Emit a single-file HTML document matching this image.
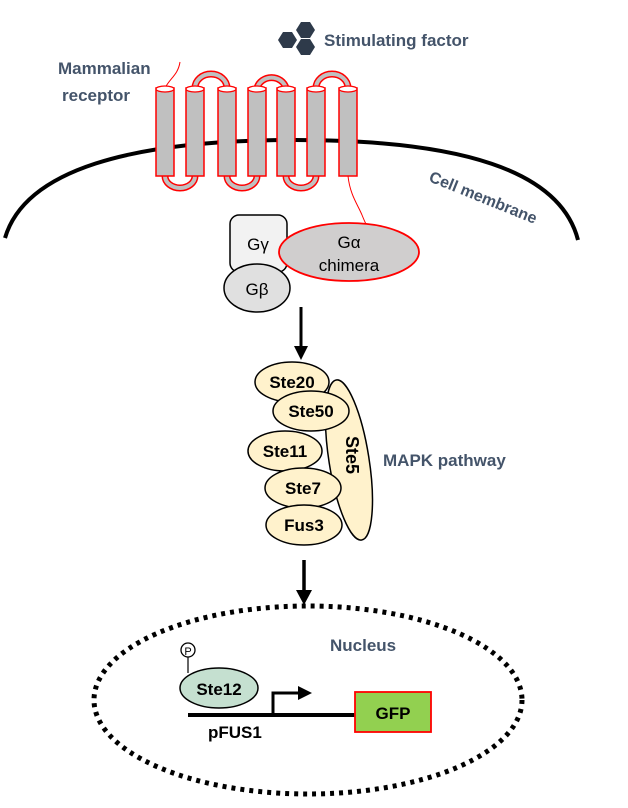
<!DOCTYPE html>
<html><head><meta charset="utf-8"><style>
html,body{margin:0;padding:0;background:#fff}
svg{display:block}
text{font-family:"Liberation Sans",Arial,sans-serif}
</style></head><body>
<svg width="628" height="808" viewBox="0 0 628 808" xmlns="http://www.w3.org/2000/svg">
<!-- stimulating factor hexagons -->
<g fill="#2e3a4a">
<polygon points="278,40 283,32 292,32 297,40 292,48 283,48"/>
<polygon points="296,30 301,22 310,22 315,30 310,38 301,38"/>
<polygon points="296,47 301,39 310,39 315,47 310,55 301,55"/>
</g>
<text x="324" y="46" font-size="17" font-weight="bold" fill="#44546a">Stimulating factor</text>
<text x="58" y="74" font-size="17" font-weight="bold" fill="#44546a">Mammalian</text>
<text x="62" y="101" font-size="17" font-weight="bold" fill="#44546a">receptor</text>
<path d="M165,88 C170,78 178,75 180,62" fill="none" stroke="red" stroke-width="1"/>
<!-- membrane -->
<path d="M5,238 C25,170 130,140 295,140 C460,140 560,170 578,240" fill="none" stroke="#000" stroke-width="4"/>
<text x="428" y="181" font-size="16" font-weight="bold" fill="#44546a" transform="rotate(22 428 181)">Cell membrane</text>
<!-- loops -->
<g fill="none" stroke="red" stroke-width="7">
<path d="M195,88 A16,14 0 0 1 227,88"/><path d="M257,88 A15,14 0 0 1 286,88"/><path d="M316,88 A16,14 0 0 1 348,88"/>
<path d="M165,176 A15,12 0 0 0 195,176"/><path d="M227,176 A15,12 0 0 0 257,176"/><path d="M286,176 A15,12 0 0 0 316,176"/>
</g>
<g fill="none" stroke="#c0c0c0" stroke-width="4">
<path d="M195,88 A16,14 0 0 1 227,88"/><path d="M257,88 A15,14 0 0 1 286,88"/><path d="M316,88 A16,14 0 0 1 348,88"/>
<path d="M165,176 A15,12 0 0 0 195,176"/><path d="M227,176 A15,12 0 0 0 257,176"/><path d="M286,176 A15,12 0 0 0 316,176"/>
</g>
<g fill="#c0c0c0" stroke="red" stroke-width="1.5">
<rect x="156" y="88" width="18" height="88"/><rect x="186" y="88" width="18" height="88"/><rect x="218" y="88" width="18" height="88"/><rect x="248" y="88" width="18" height="88"/><rect x="277" y="88" width="18" height="88"/><rect x="307" y="88" width="18" height="88"/><rect x="339" y="88" width="18" height="88"/>
</g>
<g fill="#fff" stroke="red" stroke-width="1.2">
<ellipse cx="165" cy="89" rx="9" ry="3"/><ellipse cx="195" cy="89" rx="9" ry="3"/><ellipse cx="227" cy="89" rx="9" ry="3"/><ellipse cx="257" cy="89" rx="9" ry="3"/><ellipse cx="286" cy="89" rx="9" ry="3"/><ellipse cx="316" cy="89" rx="9" ry="3"/><ellipse cx="348" cy="89" rx="9" ry="3"/>
</g>
<path d="M348,176 C350,195 358,205 362,215 C366,225 368,228 368,225" fill="none" stroke="red" stroke-width="1"/>
<!-- G proteins -->
<rect x="230" y="215" width="57" height="57" rx="9" fill="#f2f2f2" stroke="#000" stroke-width="1.5"/>
<text x="258" y="250" font-size="17" text-anchor="middle">Gγ</text>
<ellipse cx="257" cy="288" rx="33" ry="24" fill="#e0e0e0" stroke="#000" stroke-width="1.5"/>
<text x="257" y="295" font-size="17" text-anchor="middle">Gβ</text>
<ellipse cx="349" cy="252" rx="70" ry="29" fill="#d0cece" stroke="red" stroke-width="1.8"/>
<text x="349" y="248" font-size="17" text-anchor="middle">Gα</text>
<text x="349" y="271" font-size="17" text-anchor="middle">chimera</text>
<!-- arrows -->
<line x1="301" y1="307" x2="301" y2="348" stroke="#000" stroke-width="3"/>
<polygon points="294,346 308,346 301,360" fill="#000"/>
<line x1="304" y1="560" x2="304" y2="592" stroke="#000" stroke-width="3.5"/>
<polygon points="296,590 312,590 304,605" fill="#000"/>
<!-- MAPK -->
<g fill="#fff2cc" stroke="#000" stroke-width="1.5">
<ellipse cx="349" cy="460" rx="20" ry="81" transform="rotate(-9 349 460)"/>
<ellipse cx="292" cy="382" rx="37" ry="20"/>
<ellipse cx="311" cy="411" rx="38" ry="20"/>
<ellipse cx="285" cy="451" rx="37" ry="20"/>
<ellipse cx="303" cy="488" rx="38" ry="20"/>
<ellipse cx="304" cy="525" rx="38" ry="20"/>
</g>
<g font-size="17" font-weight="bold" text-anchor="middle">
<text x="292" y="388">Ste20</text><text x="311" y="417">Ste50</text><text x="285" y="457">Ste11</text><text x="303" y="494">Ste7</text><text x="304" y="531">Fus3</text>
<text x="352" y="455" transform="rotate(90 352 455)" dy="6" font-size="18">Ste5</text>
</g>
<text x="383" y="466" font-size="17" font-weight="bold" fill="#44546a">MAPK pathway</text>
<!-- nucleus -->
<ellipse cx="308" cy="700" rx="214" ry="94" fill="none" stroke="#000" stroke-width="5" stroke-dasharray="4 5"/>
<text x="330" y="651" font-size="17" font-weight="bold" fill="#44546a">Nucleus</text>
<circle cx="188" cy="650" r="7" fill="#fff" stroke="#000" stroke-width="1.3"/>
<text x="188" y="655" font-size="11" text-anchor="middle">P</text>
<line x1="188" y1="657" x2="188" y2="673" stroke="#000" stroke-width="1.2"/>
<ellipse cx="219" cy="688" rx="39" ry="20" fill="#c5e0d0" stroke="#000" stroke-width="1.5"/>
<text x="219" y="695" font-size="17" font-weight="bold" text-anchor="middle">Ste12</text>
<line x1="188" y1="715" x2="356" y2="715" stroke="#000" stroke-width="4"/>
<path d="M273,715 V693 H300" fill="none" stroke="#000" stroke-width="3"/>
<polygon points="298,686 312,693 298,700" fill="#000"/>
<rect x="355" y="692" width="76" height="40" fill="#92d050" stroke="red" stroke-width="1.8"/>
<text x="393" y="719" font-size="17" font-weight="bold" text-anchor="middle">GFP</text>
<text x="208" y="738" font-size="17" font-weight="bold">pFUS1</text>
</svg>
</body></html>
